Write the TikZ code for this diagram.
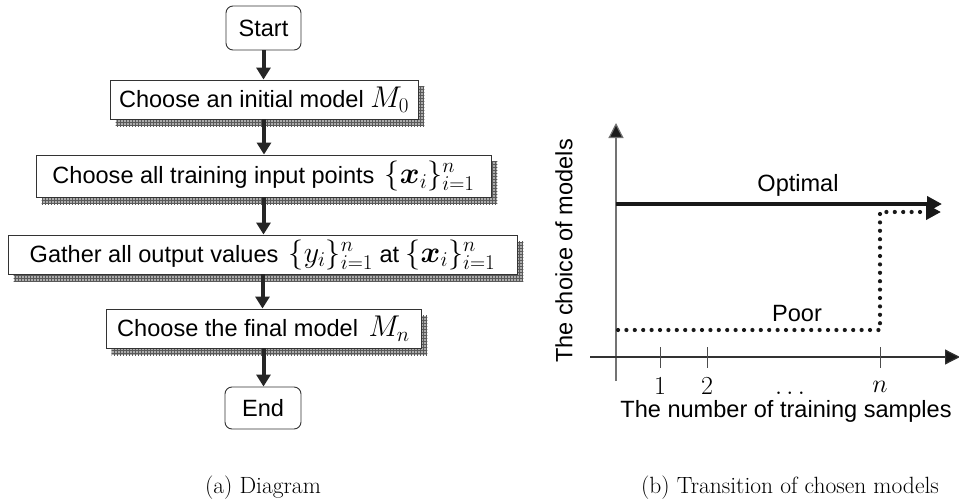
\RequirePackage{fix-cm}
\documentclass[tikz,border=0pt]{standalone}
\usepackage{amsmath}
\usepackage{bm}
\usepackage{fontspec}
\setsansfont{Liberation Sans}[Scale=0.785]
\usetikzlibrary{arrows.meta,patterns,backgrounds,calc}
\newcommand\boxfont{\fontsize{30}{36}\selectfont\sffamily}
\newcommand\numfont{\fontsize{26}{30}\selectfont}
\newcommand\capfont{\fontsize{23.5}{28}\selectfont\rmfamily}
\begin{document}
\begin{tikzpicture}[x=1pt,y=-1pt,
  procbox/.style={draw=black!80, line width=0.9pt, fill=white, inner sep=0pt, font=\boxfont},
  termbox/.style={draw=black!80, line width=0.9pt, fill=white, rounded corners=7pt, inner sep=0pt, font=\boxfont},
  flowarrow/.style={line width=4pt, draw=black!85, -{Triangle[width=14pt,length=12pt,fill=black!85]}},
  shadowfill/.style={fill=gray!65, postaction={pattern=grid, pattern color=black!65}},
  axisline/.style={line width=1.2pt, -{Triangle[width=15pt,length=15pt,fill=black!90]}},
  tickline/.style={line width=1pt, draw=black!70},
  optline/.style={line width=4pt, draw=black!90, -{Triangle[width=15pt,length=15pt,fill=black!90]}},
  poorline/.style={line width=4.2pt, draw=black!90, line cap=round, dash pattern=on 0pt off 8.4pt, -{Triangle[width=15pt,length=15pt,fill=black!90]}},
  plotlabel/.style={font=\boxfont, inner sep=0pt},
  numlabel/.style={font=\numfont, inner sep=0pt},
  caplabel/.style={font=\capfont, inner sep=0pt}
]
\useasboundingbox (0,0) rectangle (959,503);

% ---------- flowchart ----------
\node[termbox, minimum width=75pt, minimum height=44pt] (start) at (263.5,28) {Start};
\node[procbox, minimum width=308pt, minimum height=39pt] (b1) at (264,99.5) {Choose an initial model $M_0$};
\node[procbox, minimum width=455pt, minimum height=42pt] (b2) at (263.5,176) {Choose all training input points\, $\{\bm{x}_i\}_{i=1}^n$\hspace{14pt}};
\node[procbox, minimum width=509pt, minimum height=39pt] (b3) at (262.5,254.5) {Gather all output values\, $\{y_i\}_{i=1}^n$ at $\{\bm{x}_i\}_{i=1}^n$\hspace{3pt}};
\node[procbox, minimum width=315pt, minimum height=39pt] (b4) at (263.5,328.5) {Choose the final model\, $M_n$};
\node[termbox, minimum width=76pt, minimum height=42pt] (end) at (263,408) {End};

\begin{pgfonlayer}{background}
\foreach \b in {b1,b2,b3,b4}{
  \path[shadowfill] ($(\b.south west)+(6,7)$) rectangle ($(\b.north east)+(6,7)$);
}
\end{pgfonlayer}

\draw[flowarrow] (start.south) -- (start.south |- b1.north);
\draw[flowarrow] (b1.south) -- (b1.south |- b2.north);
\draw[flowarrow] (b2.south) -- (b2.south |- b3.north);
\draw[flowarrow] (b3.south) -- (b3.south |- b4.north);
\draw[flowarrow] (b4.south) -- (b4.south |- end.north);

\node[caplabel] (capa) at (263,488) {(a) Diagram};

% ---------- plot ----------
\coordinate (ybot) at (616,381);
\coordinate (ytop) at (616,123);
\coordinate (xl) at (590,357);
\coordinate (xr) at (960,357);
\draw[axisline, draw=black!55] (ybot) -- (ytop);
\draw[axisline, draw=black!80] (xl) -- (xr);

\foreach \x in {660,707,880}{
  \draw[tickline] (\x,347) -- (\x,368);
}
\node[numlabel] (l1) at (660,386.5) {$1$};
\node[numlabel] (l2) at (707,386.5) {$2$};
\node[numlabel, anchor=base] (ld) at (790,394) {$\ldots$};
\node[numlabel] (ln) at (880,386.5) {$n$};

\coordinate (opt0) at (616,204);
\coordinate (opt1) at (942,204);
\draw[optline] (opt0) -- (opt1);

\coordinate (p0) at (618,330);
\coordinate (p1) at (880,330);
\coordinate (p2) at (880,212);
\coordinate (p3) at (941,212);
\draw[poorline] (p0) -- (p1) -- (p2) -- (p3);

\node[plotlabel] (optl) at (798,185) {Optimal};
\node[plotlabel] (poorl) at (797,314) {Poor};
\node[plotlabel] (xlab) at (786,411) {The number of training samples};
\node[plotlabel, rotate=90] (ylab) at (564,251) {The choice of models};

\node[caplabel] (capb) at (790,488) {(b) Transition of chosen models};
\end{tikzpicture}
\end{document}
